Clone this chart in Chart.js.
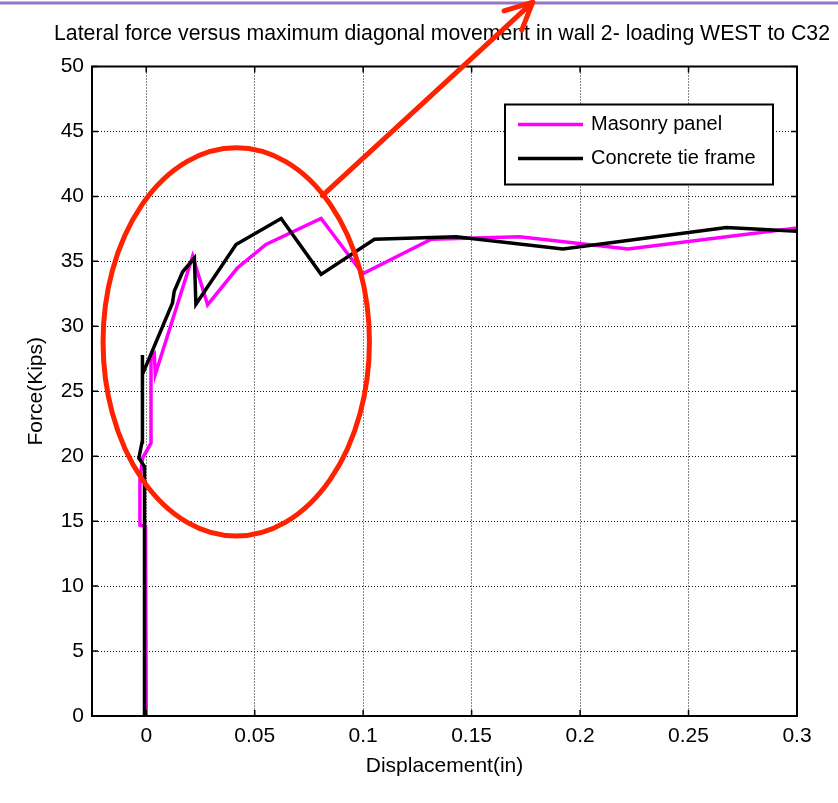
<!DOCTYPE html>
<html>
<head>
<meta charset="utf-8">
<script src="https://cdn.jsdelivr.net/npm/chart.js@4.4.0/dist/chart.umd.min.js"></script>
<style>
  html, body { margin: 0; padding: 0; background: #fff; }
  #wrap { width: 838px; height: 803px; position: relative; }
</style>
</head>
<body>
<div id="wrap"><canvas id="forceChart"></canvas></div>
<script>
// displacement (in) / force (kips)
const masonryX = [0.0, -0.0003, -0.0029, -0.0029, -0.0017, 0.0022, 0.0022, 0.0037, 0.0042, 0.0214, 0.0283, 0.0421, 0.0552, 0.0806, 0.0998, 0.1314, 0.1721, 0.2221, 0.3014];
const masonryY = [0, 14.6, 14.7, 18.2, 19.85, 21.0, 27.7, 27.9, 26.3, 35.4, 31.66, 34.5, 36.3, 38.3, 34.05, 36.7, 36.9, 35.95, 37.6];

const frameX = [-0.0008, -0.0008, -0.0034, -0.0019, -0.0019, -0.0016, 0.0121, 0.0129, 0.0168, 0.0222, 0.0229, 0.0414, 0.0622, 0.0806, 0.1052, 0.1429, 0.1921, 0.2675, 0.3018];
const frameY = [0, 19.2, 19.85, 21.1, 27.8, 26.3, 31.8, 32.7, 34.2, 35.25, 31.7, 36.3, 38.3, 34.0, 36.7, 36.9, 35.95, 37.6, 37.3];

const seriesNames = ['Masonry panel', 'Concrete tie frame'];
const seriesColors = ['#ff00ff', '#000000'];

// red highlight ellipse + arrow, in data units
const ellipseCenter = [0.0415, 28.8];
const ellipseRadius = [0.0614, 14.95];
const arrowFrom = [0.0812, 40.06];
const arrowTo = [0.1782, 54.95];

const FONT = "'Liberation Sans', Arial, sans-serif";

function toPoints(xs, ys) {
    return xs.map((x, i) => ({x: x, y: ys[i]}));
}

// border box, inward ticks, legend box and the red annotation
const decorations = {
    id: 'decorations',
    beforeDraw(chart) {
        const ctx = chart.ctx;
        ctx.save();
        ctx.fillStyle = '#fff';
        ctx.fillRect(0, 0, chart.width, chart.height);
        // purple rule across the top of the slide
        ctx.strokeStyle = '#9a72cc';
        ctx.lineWidth = 3;
        ctx.beginPath();
        ctx.moveTo(0, 3);
        ctx.lineTo(chart.width, 3);
        ctx.stroke();
        ctx.restore();
    },
    afterDatasetsDraw(chart) {
        const ctx = chart.ctx;
        const a = chart.chartArea;
        const xs = chart.scales.x, ys = chart.scales.y;
        ctx.save();

        // axes box
        ctx.strokeStyle = '#000';
        ctx.lineWidth = 2;
        ctx.strokeRect(a.left, a.top, a.right - a.left, a.bottom - a.top);

        // small inward ticks on all four sides
        ctx.lineWidth = 1.5;
        ctx.beginPath();
        xs.ticks.forEach(t => {
            const px = xs.getPixelForValue(t.value);
            ctx.moveTo(px, a.bottom); ctx.lineTo(px, a.bottom - 6);
            ctx.moveTo(px, a.top); ctx.lineTo(px, a.top + 6);
        });
        ys.ticks.forEach(t => {
            const py = ys.getPixelForValue(t.value);
            ctx.moveTo(a.left, py); ctx.lineTo(a.left + 6, py);
            ctx.moveTo(a.right, py); ctx.lineTo(a.right - 6, py);
        });
        ctx.stroke();

        // legend box
        const lx = a.right - 292, ly = a.top + 38, lw = 268, lh = 80;
        ctx.fillStyle = '#fff';
        ctx.fillRect(lx, ly, lw, lh);
        ctx.lineWidth = 2;
        ctx.strokeStyle = '#000';
        ctx.strokeRect(lx, ly, lw, lh);
        ctx.font = '20px ' + FONT;
        ctx.textBaseline = 'middle';
        chart.data.datasets.forEach((ds, i) => {
            const y = ly + 20 + i * 34;
            ctx.strokeStyle = ds.borderColor;
            ctx.lineWidth = 3.5;
            ctx.beginPath();
            ctx.moveTo(lx + 13, y);
            ctx.lineTo(lx + 78, y);
            ctx.stroke();
            ctx.fillStyle = '#000';
            ctx.fillText(ds.label, lx + 86, y);
        });

        // red ellipse and arrow
        const cx = xs.getPixelForValue(ellipseCenter[0]);
        const cy = ys.getPixelForValue(ellipseCenter[1]);
        const rx = Math.abs(xs.getPixelForValue(ellipseCenter[0] + ellipseRadius[0]) - cx);
        const ry = Math.abs(ys.getPixelForValue(ellipseCenter[1] + ellipseRadius[1]) - cy);
        ctx.strokeStyle = '#ff2200';
        ctx.lineWidth = 5;
        ctx.beginPath();
        ctx.ellipse(cx, cy, rx, ry, 0, 0, Math.PI * 2);
        ctx.stroke();

        const x0 = xs.getPixelForValue(arrowFrom[0]), y0 = ys.getPixelForValue(arrowFrom[1]);
        const x1 = xs.getPixelForValue(arrowTo[0]), y1 = ys.getPixelForValue(arrowTo[1]);
        const ang = Math.atan2(y0 - y1, x0 - x1);
        ctx.lineCap = 'round';
        ctx.lineJoin = 'round';
        ctx.beginPath();
        ctx.moveTo(x0, y0);
        ctx.lineTo(x1, y1);
        ctx.moveTo(x1 + 30 * Math.cos(ang + 0.45), y1 + 30 * Math.sin(ang + 0.45));
        ctx.lineTo(x1, y1);
        ctx.lineTo(x1 + 30 * Math.cos(ang - 0.45), y1 + 30 * Math.sin(ang - 0.45));
        ctx.stroke();
        ctx.restore();
    }
};

const ctx = document.getElementById('forceChart').getContext('2d');
new Chart(ctx, {
    type: 'line',
    data: {
        datasets: [{
            label: seriesNames[0],
            data: toPoints(masonryX, masonryY),
            borderColor: seriesColors[0],
            borderWidth: 3.5,
            pointRadius: 0,
            tension: 0,
            order: 2
        }, {
            label: seriesNames[1],
            data: toPoints(frameX, frameY),
            borderColor: seriesColors[1],
            borderWidth: 3.5,
            pointRadius: 0,
            tension: 0,
            order: 1
        }]
    },
    options: {
        responsive: true,
        maintainAspectRatio: false,
        animation: false,
        layout: { padding: { left: 0, right: 8, top: 0, bottom: 0 } },
        plugins: {
            legend: { display: false },
            tooltip: { enabled: false },
            title: {
                display: true,
                text: 'Lateral force versus maximum diagonal movement in wall 2- loading WEST to C32',
                color: '#000',
                font: { family: FONT, size: 21.25, weight: 'normal' },
                padding: { top: 21, bottom: 20 },
                align: 'end'
            }
        },
        scales: {
            x: {
                type: 'linear',
                min: -0.025,
                max: 0.3,
                afterBuildTicks: s => {
                    s.ticks = s.ticks.filter(t => Math.abs(t.value / 0.05 - Math.round(t.value / 0.05)) < 1e-6);
                },
                afterFit: s => { s.height = 87; },
                ticks: {
                    stepSize: 0.05,
                    includeBounds: false,
                    color: '#000',
                    padding: 8,
                    font: { family: FONT, size: 21 },
                    callback: v => String(Math.round(v * 100) / 100)
                },
                grid: { color: '#111', lineWidth: 1, drawTicks: false },
                border: { display: false, dash: [1, 2] },
                title: {
                    display: true,
                    text: 'Displacement(in)',
                    color: '#000',
                    font: { family: FONT, size: 21 },
                    padding: { top: 24, bottom: 24 }
                }
            },
            y: {
                min: 0,
                max: 50,
                afterFit: s => { s.width = 92; },
                ticks: {
                    stepSize: 5,
                    color: '#000',
                    padding: 8,
                    font: { family: FONT, size: 21 }
                },
                grid: { color: '#111', lineWidth: 1, drawTicks: false },
                border: { display: false, dash: [1, 2] },
                title: {
                    display: true,
                    text: 'Force(Kips)',
                    color: '#000',
                    font: { family: FONT, size: 21 },
                    padding: { top: 24, bottom: 24 }
                }
            },
            // empty right-hand axis, only reserves the margin right of the plot
            y2: {
                position: 'right',
                min: 0,
                max: 50,
                afterFit: s => { s.width = 33; },
                ticks: { display: false },
                grid: { display: false, drawOnChartArea: false, drawTicks: false },
                border: { display: false }
            }
        }
    },
    plugins: [decorations]
});
</script>
</body>
</html>
